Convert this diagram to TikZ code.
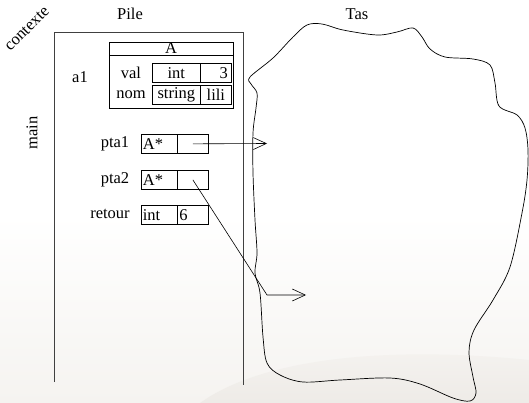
\documentclass[tikz,border=0pt]{standalone}
\usepackage{fontspec}
\setmainfont{Liberation Serif}
\usetikzlibrary{arrows.meta}
\definecolor{hazeA}{RGB}{245,243,240}
\definecolor{hazeB}{RGB}{238,235,231}
\begin{document}
\begin{tikzpicture}[x=1pt,y=-1pt,
  every node/.style={font=\fontsize{16.5}{19}\selectfont, inner sep=0pt},
  cell/.style={draw, line width=0.7pt, anchor=north west, minimum height=19pt},
  frame/.style={line width=0.9pt, draw=black!75},
  ptr/.style={line width=0.6pt, -{Straight Barb[length=13pt,width=12pt,line width=0.6pt]}},
  blob/.style={line width=0.7pt}]
\useasboundingbox (0,0) rectangle (529,403);

% soft background shading
\shade[top color=white, bottom color=hazeA] (0,215) rectangle (529,403);
\shade[top color=hazeA, bottom color=hazeB] (200,403) .. controls (260,360) and (380,345) .. (529,360) -- (529,403) -- cycle;

% titles
\node (pile) at (130,14) {Pile};
\node (tas) at (357,14) {Tas};
\node[rotate=45] (ctx) at (27,29) {contexte};
\node[rotate=90] (main) at (32,133) {main};

% stack frame
\coordinate (fTL) at (54,32);
\coordinate (fTR) at (243,32);
\coordinate (fBL) at (54,382);
\coordinate (fBR) at (243,385);
\draw[frame] (fBL) -- (fTL) -- (fTR) -- (fBR);

% structure a1
\node (a1) at (80,77) {a1};
\node[draw, line width=0.7pt, anchor=north west, minimum width=124pt, minimum height=66pt] (st) at (109,42) {};
\draw[line width=0.7pt] (109,55) -- (233,55);
\node (stA) at (171,48) {A};
\node (val) at (131,73) {val};
\node[cell, minimum width=48pt] (vt) at (152,63) {int};
\node[cell, minimum width=31pt] (vv) at (200,63) {};
\node[anchor=east] (v3) at (228,73) {3};
\node (nom) at (131,95) {nom};
\node[cell, minimum width=48pt] (nt) at (152,85) {string};
\node[cell, minimum width=31pt] (nv) at (200,85) {lili};

% pointers and return value
\node (pta1) at (115,144) {pta1};
\node[cell, minimum width=36pt, text width=33pt, align=left] (p1t) at (141,134) {A*};
\node[cell, minimum width=31pt] (p1v) at (177,134) {};
\node (pta2) at (115,180) {pta2};
\node[cell, minimum width=36pt, text width=33pt, align=left] (p2t) at (141,170) {A*};
\node[cell, minimum width=31pt] (p2v) at (177,170) {};
\node (ret) at (110,214) {retour};
\node[cell, minimum width=36pt, text width=33pt, align=left] (rt) at (141,205) {int};
\node[cell, minimum width=31pt, text width=27pt, align=left] (rv) at (177,205) {6};

% heap
\draw[blob] plot[smooth cycle, tension=0.55] coordinates {
  (250,77) (273,58) (293,37) (307,25) (322,24) (343,30) (377,35) (397,32)
  (413,28) (422,37) (430,49) (445,57) (473,59) (490,65) (495,83) (499,106)
  (517,115) (525,128) (528,150) (527,180) (522,213) (510,267) (493,300)
  (474,330) (469,352) (473,377) (476,393) (470,401) (453,398) (420,384)
  (390,378) (340,380) (303,382) (280,375) (267,363) (263,337) (260,293)
  (255,273) (257,253) (255,220) (253,173) (253,133) (256,108) (257,93) (251,84)};

% references into the heap
\coordinate (t1) at (267,143.5);
\coordinate (k2) at (267,295);
\coordinate (t2) at (306,295);
\draw[ptr] (p1v.center) -- (t1);
\draw[ptr] (p2v.center) -- (k2) -- (t2);
\end{tikzpicture}
\end{document}
